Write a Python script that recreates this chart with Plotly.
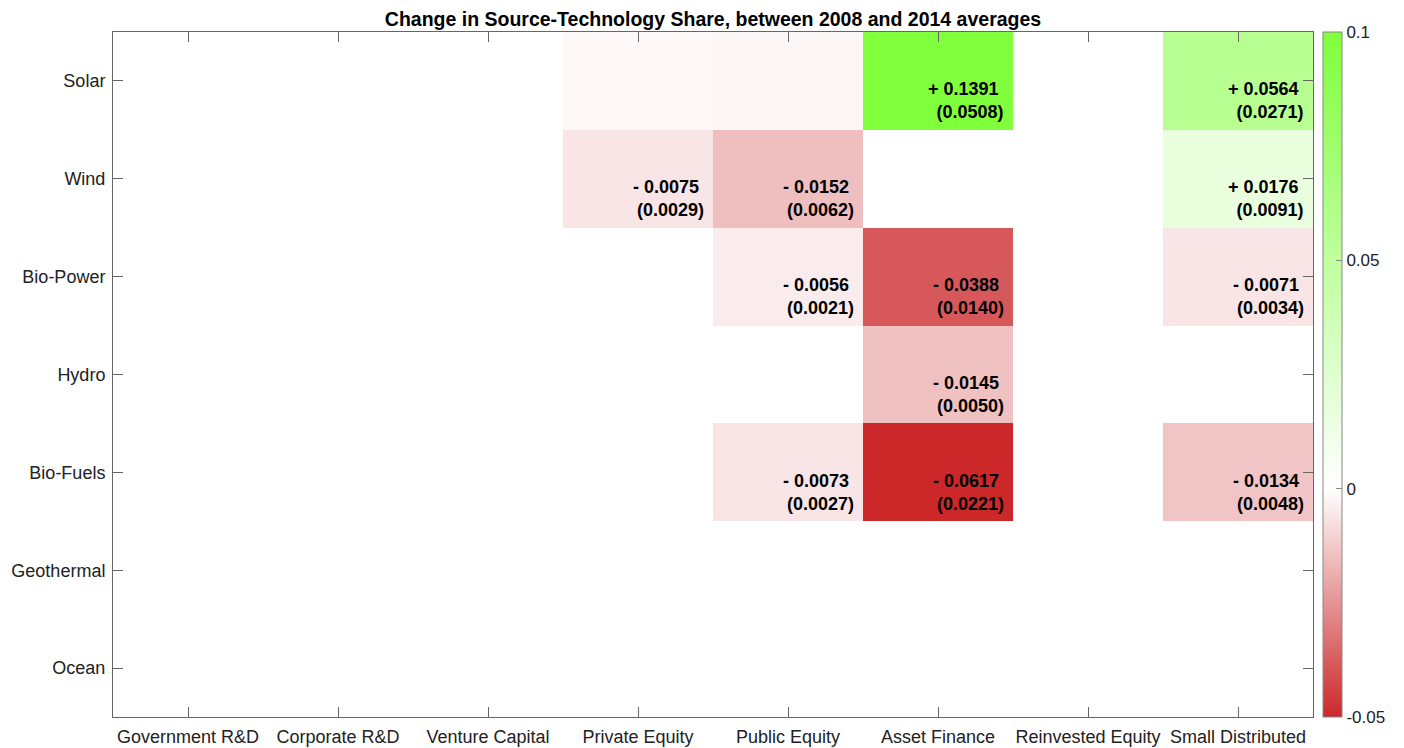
import plotly.graph_objects as go

sources = ['Government R&D', 'Corporate R&D', 'Venture Capital', 'Private Equity',
           'Public Equity', 'Asset Finance', 'Reinvested Equity', 'Small Distributed']
techs = ['Solar', 'Wind', 'Bio-Power', 'Hydro', 'Bio-Fuels', 'Geothermal', 'Ocean']

# change in share (rows = techs, cols = sources); None = no change shown
change_solar = [None, None, None, -0.0018, -0.0020, 0.1391, None, 0.0564]
change_wind = [None, None, None, -0.0060, -0.0152, None, None, 0.0176]
change_biopower = [None, None, None, None, -0.0045, -0.0388, None, -0.0060]
change_hydro = [None, None, None, None, None, -0.0145, None, None]
change_biofuels = [None, None, None, None, -0.0060, -0.0617, None, -0.0134]
change_geo = [None] * 8
change_ocean = [None] * 8

# labels: printed change and standard error (None = no label)
label_solar = [None, None, None, None, None, 0.1391, None, 0.0564]
label_wind = [None, None, None, -0.0075, -0.0152, None, None, 0.0176]
label_biopower = [None, None, None, None, -0.0056, -0.0388, None, -0.0071]
label_hydro = [None, None, None, None, None, -0.0145, None, None]
label_biofuels = [None, None, None, None, -0.0073, -0.0617, None, -0.0134]

se_solar = [None, None, None, None, None, 0.0508, None, 0.0271]
se_wind = [None, None, None, 0.0029, 0.0062, None, None, 0.0091]
se_biopower = [None, None, None, None, 0.0021, 0.0140, None, 0.0034]
se_hydro = [None, None, None, None, None, 0.0050, None, None]
se_biofuels = [None, None, None, None, 0.0027, 0.0221, None, 0.0048]

cbar_vals = [0.1, 0.05, 0, -0.05]
cbar_text = ['0.1', '0.05', '0', '-0.05']

z = [change_solar, change_wind, change_biopower, change_hydro,
     change_biofuels, change_geo, change_ocean]
labels = [label_solar, label_wind, label_biopower, label_hydro, label_biofuels]
se = [se_solar, se_wind, se_biopower, se_hydro, se_biofuels]

FONT = 'Liberation Sans, Arial, Helvetica, sans-serif'

fig = go.Figure()
fig.add_trace(go.Heatmap(
    x=sources, y=techs, z=z,
    zmin=-0.05, zmax=0.1,
    colorscale=[[0, 'rgb(204,40,42)'], [1 / 3, 'rgb(255,255,255)'], [1, 'rgb(128,255,60)']],
    hoverinfo='skip',
    colorbar=dict(
        x=1.0083, xanchor='left', xpad=0, y=0.5, yanchor='middle', ypad=0,
        len=1, lenmode='fraction', thickness=19,
        outlinewidth=1, outlinecolor='#888',
        tickvals=cbar_vals, ticktext=cbar_text,
        ticks='inside', ticklen=6, tickcolor='#888',
        tickfont=dict(size=17, color='#222', family=FONT),
    ),
))

for i, t in enumerate(techs[:len(labels)]):
    for j, s in enumerate(sources):
        if se[i][j] is None:
            continue
        v = labels[i][j]
        sign = '+' if v > 0 else '-'
        fig.add_annotation(
            x=s, y=t, xref='x', yref='y',
            text=f'<b>{sign} {abs(v):.4f}&nbsp;</b><br><b>({se[i][j]:.4f})</b>',
            showarrow=False, xanchor='right', yanchor='middle', align='right',
            xshift=68, yshift=-20,
            font=dict(size=18, color='black', family=FONT),
        )

axis_common = dict(
    showline=True, linecolor='#666', linewidth=1, mirror='ticks',
    ticks='inside', ticklen=10, tickcolor='#666', showgrid=False, zeroline=False,
    automargin=False, ticklabelstandoff=3,
    tickfont=dict(size=18, color='#222', family=FONT),
)

# page body has an 8px margin, so the figure starts 8px in from the window corner
fig.update_layout(
    width=1388, height=740,
    margin=dict(l=105, r=83, t=24, b=31, autoexpand=False),
    paper_bgcolor='white', plot_bgcolor='white',
    title=dict(
        text='<b>Change in Source-Technology Share, between 2008 and 2014 averages</b>',
        x=0.5, xref='paper', xanchor='center', y=1 - 11 / 740, yref='container',
        yanchor='middle',
        font=dict(size=19.5, color='black', family=FONT),
    ),
    xaxis=dict(axis_common, categoryorder='array', categoryarray=sources),
    yaxis=dict(axis_common, autorange='reversed'),
)

fig.write_html('out.html')
